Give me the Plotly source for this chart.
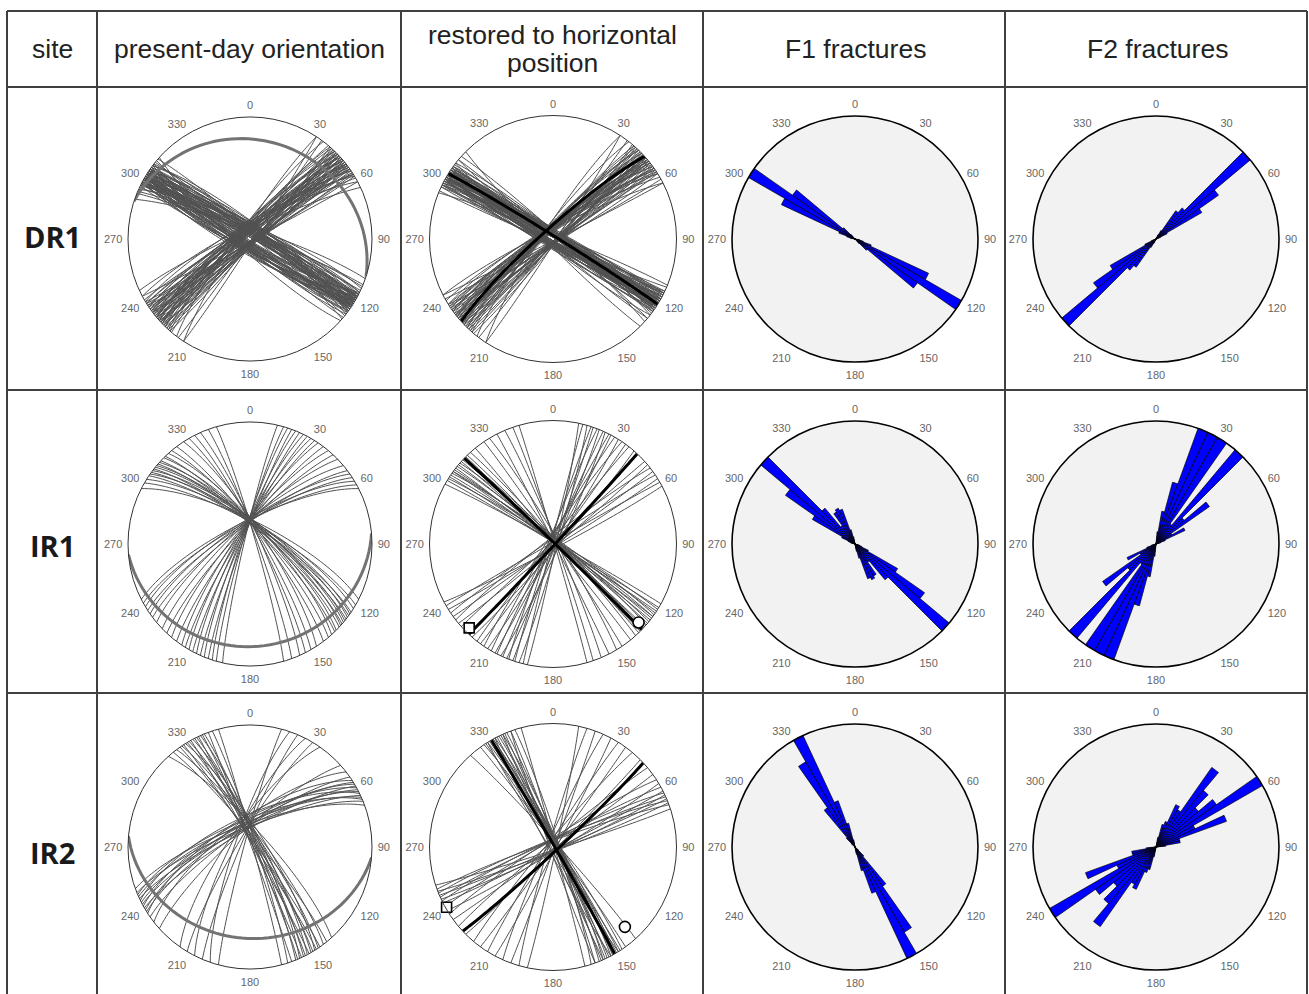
import numpy as np
import plotly.graph_objects as go

W, H = 1309, 994

# ---------------- data ----------------
TICK_DEG = [0, 30, 60, 90, 120, 150, 180, 210, 240, 270, 300, 330]
TICK_TXT = ["0", "30", "60", "90", "120", "150", "180", "210", "240", "270", "300", "330"]

HEADERS = ["site", "present-day orientation", "restored to horizontal", "position", "F1 fractures", "F2 fractures"]
SITES = ["DR1", "IR1", "IR2"]

# great circles: strike (right-hand rule), dip
DR1_NOW_F1_STRIKE = [289, 292, 294, 295, 296, 297, 297, 298, 298, 299, 299, 300, 300, 301, 301, 302, 302, 303, 303, 304,
                     304, 305, 305, 306, 307, 308, 309, 311, 116, 117, 118, 118, 119, 120, 120, 121, 121, 122, 123, 123,
                     124, 125, 126, 127, 128, 130, 132,
                     293, 296, 298, 299, 300, 301, 302, 303, 304, 305, 306, 307, 300, 303, 297, 119, 120, 121, 122, 123,
                     124, 125, 118, 122, 126, 121, 124, 117, 120, 123]
DR1_NOW_F1_DIP = [83, 86, 81, 87, 84, 88, 82, 85, 89, 80, 86, 83, 87, 84, 89, 81, 86, 84, 88, 82,
                  85, 87, 83, 86, 80, 84, 88, 85, 84, 87, 82, 88, 85, 83, 89, 86, 81, 84, 87, 82,
                  88, 85, 83, 86, 84, 87, 82,
                  85, 82, 87, 84, 81, 88, 83, 86, 80, 87, 84, 82, 89, 85, 86, 83, 88, 85, 81, 86,
                  84, 89, 82, 87, 85, 83, 88, 86, 80, 84]
DR1_NOW_F2_STRIKE = [213, 217, 220, 222, 223, 224, 225, 226, 226, 227, 228, 228, 229, 230, 230, 231, 232, 232, 233, 234,
                     235, 236, 237, 238, 240, 242, 245, 33, 36, 41, 43, 45, 46, 48, 50, 51, 53, 55, 57, 59, 62,
                     221, 224, 226, 227, 229, 230, 231, 233, 234, 235, 236, 238, 239, 227, 232, 42, 44, 47, 49, 52,
                     54, 56, 58, 48, 50, 53, 45]
DR1_NOW_F2_DIP = [84, 82, 85, 83, 86, 81, 84, 87, 82, 85, 83, 80, 86, 84, 82, 85, 88, 83, 81, 86,
                  84, 82, 87, 83, 85, 81, 84, 88, 89, 87, 88, 89, 86, 88, 89, 87, 88, 89, 87, 88, 89,
                  83, 85, 81, 86, 84, 82, 87, 85, 83, 86, 82, 84, 80, 88, 85, 88, 87, 89, 86, 88,
                  87, 89, 88, 86, 87, 89, 88]
DR1_BEDDING = [288, 20]

DR1_RES_F1_STRIKE = [292, 295, 296, 297, 298, 298, 299, 299, 300, 300, 301, 301, 302, 302, 302, 303, 303, 304, 304, 305,
                     305, 306, 307, 308, 310, 312, 113, 115, 116, 117, 118, 119, 120, 120, 121, 122, 122, 123, 124, 125,
                     126, 128, 130, 135,
                     296, 297, 299, 300, 301, 302, 303, 304, 305, 306, 300, 302, 304, 116, 118, 119, 120, 121, 122, 123,
                     124, 119, 121, 123, 120]
DR1_RES_F1_DIP = [87, 89, 86, 88, 85, 89, 87, 84, 88, 86, 89, 85, 87, 88, 84, 89, 86, 87, 85, 88,
                  86, 89, 87, 85, 88, 86, 88, 87, 89, 86, 88, 85, 89, 87, 86, 88, 84, 87, 89, 86,
                  88, 85, 87, 86,
                  88, 86, 89, 87, 85, 88, 86, 89, 87, 85, 89, 86, 88, 87, 89, 85, 88, 86, 89, 87,
                  85, 88, 86, 89, 87]
DR1_RES_F2_STRIKE = [213, 218, 221, 223, 224, 225, 226, 227, 227, 228, 229, 229, 230, 231, 231, 232, 233, 234, 235, 236,
                     237, 238, 240, 243, 33, 37, 40, 42, 44, 46, 47, 49, 50, 52, 54, 56, 58, 61, 63,
                     222, 224, 226, 228, 229, 230, 231, 232, 234, 235, 236, 238, 228, 232, 41, 43, 45, 48, 50, 53,
                     55, 57, 47, 51]
DR1_RES_F2_DIP = [83, 82, 84, 85, 83, 86, 82, 84, 85, 83, 86, 82, 84, 85, 83, 86, 84, 82, 85, 83,
                  84, 86, 83, 84, 88, 89, 87, 88, 89, 87, 88, 89, 88, 87, 89, 88, 87, 88, 89,
                  84, 82, 85, 83, 86, 84, 82, 85, 83, 86, 84, 82, 85, 83, 88, 89, 87, 88, 89, 87,
                  88, 89, 87, 88]
DR1_MEAN_STRIKE = [302, 228]
DR1_MEAN_DIP = [88, 83]

IR1_NOW_F1_STRIKE = [297, 300, 302, 304, 305, 306, 307, 308, 309, 310, 311, 312, 313, 315, 316, 318, 320, 323, 327, 330,
                     333, 336, 340, 344]
IR1_NOW_F1_DIP = [75, 77, 76, 78, 76, 78, 76, 79, 77, 77, 79, 77, 79, 78, 80, 78, 80, 81, 80, 82,
                  83, 83, 85, 86]
IR1_NOW_F2_STRIKE = [193, 196, 198, 200, 202, 204, 206, 208, 210, 212, 214, 217, 220, 223, 226, 230, 233, 235, 237, 239,
                     241, 243]
IR1_NOW_F2_DIP = [86, 85, 84, 85, 83, 84, 82, 83, 81, 82, 80, 81, 79, 80, 78, 77, 78, 76, 77, 75, 76, 75]
IR1_BEDDING = [85, 17]

IR1_RES_F1_STRIKE = [299, 301, 302, 303, 304, 305, 306, 306, 307, 308, 309, 310, 311, 312, 313, 314, 315, 316, 318, 321,
                     326, 329, 333, 337, 341, 344]
IR1_RES_F1_DIP = [88, 89, 87, 89, 88, 86, 89, 87, 88, 89, 87, 88, 86, 89, 88, 87, 89, 88, 87, 89,
                  88, 86, 89, 87, 88, 89]
IR1_RES_F2_STRIKE = [12, 194, 16, 198, 19, 201, 22, 204, 25, 207, 28, 210, 32, 214, 36, 218, 41, 228, 50, 232,
                     54, 236, 58, 240, 62]
IR1_RES_F2_DIP = [88, 89, 87, 88, 89, 87, 88, 89, 86, 88, 89, 87, 88, 86, 89, 88, 87, 89, 88, 86,
                  89, 87, 88, 89, 87]
IR1_MEAN_STRIKE = [314, 43]
IR1_MEAN_DIP = [89, 89]
IR1_SQUARE = [225, 0.96]   # trend, projected radius
IR1_CIRCLE = [132.5, 0.94]

IR2_NOW_F1_STRIKE = [318, 321, 323, 325, 326, 327, 328, 329, 330, 331, 332, 333, 334, 335, 336, 337, 338, 340, 342, 345]
IR2_NOW_F1_DIP = [79, 84, 81, 86, 82, 87, 80, 85, 83, 88, 82, 86, 84, 88, 83, 87, 85, 89, 86, 88]
IR2_NOW_F2_STRIKE = [195, 199, 203, 207, 211, 215, 228, 232, 235, 237, 238, 239, 240, 241, 242, 243, 244, 245, 246, 247,
                     248, 250]
IR2_NOW_F2_DIP = [86, 80, 84, 78, 82, 76, 79, 73, 78, 71, 76, 74, 79, 72, 77, 75, 70, 78, 74, 72, 77, 75]
IR2_BEDDING = [95, 26]

IR2_RES_F1_STRIKE = [318, 324, 326, 327, 328, 329, 330, 330, 331, 331, 332, 333, 334, 335, 336, 337, 338, 340, 342, 345,
                     148, 152, 156, 160]
IR2_RES_F1_DIP = [87, 88, 86, 89, 87, 88, 86, 89, 87, 88, 86, 89, 87, 88, 86, 89, 87, 88, 86, 89,
                  88, 87, 89, 88]
IR2_RES_F2_STRIKE = [12, 196, 20, 204, 28, 212, 36, 220, 45, 230, 54, 237, 59, 241, 63, 244, 65, 246, 67, 248,
                     69, 250, 72]
IR2_RES_F2_DIP = [88, 87, 89, 86, 88, 87, 89, 86, 88, 87, 89, 85, 87, 86, 88, 85, 87, 86, 88, 85,
                  87, 86, 88]
IR2_MEAN_STRIKE = [330, 47]
IR2_MEAN_DIP = [89, 87]
IR2_SQUARE = [240.5, 0.99]
IR2_CIRCLE = [138, 0.87]

# rose diagrams: relative length per 5-degree bin, 0-180 (plotted bidirectionally)
BIN_START = [0, 5, 10, 15, 20, 25, 30, 35, 40, 45, 50, 55, 60, 65, 70, 75, 80, 85,
             90, 95, 100, 105, 110, 115, 120, 125, 130, 135, 140, 145, 150, 155, 160, 165, 170, 175]
BIN_WIDTH = 5
DR1_F1 = [0, 0, 0, 0, 0, 0, 0, 0, 0, 0, 0, 0, 0, 0, 0, 0, 0, 0,
          0, 0, 0.04, 0.07, 0.14, 0.66, 1.0, 0.62, 0.13, 0.05, 0, 0, 0, 0, 0, 0, 0, 0]
DR1_F2 = [0, 0, 0, 0, 0, 0.04, 0.08, 0.28, 0.33, 1.0, 0.62, 0.43, 0.10, 0.04, 0, 0, 0, 0,
          0, 0, 0, 0, 0, 0, 0, 0, 0, 0, 0, 0, 0, 0, 0, 0, 0, 0]
IR1_F1 = [0, 0, 0, 0, 0, 0, 0, 0, 0, 0, 0, 0, 0, 0, 0, 0, 0, 0,
          0, 0, 0, 0.04, 0.06, 0.12, 0.40, 0.69, 1.0, 0.38, 0.18, 0.30, 0.32, 0.30, 0.12, 0.06, 0, 0]
IR1_F2 = [0, 0.10, 0.27, 0.52, 1.0, 1.0, 1.0, 0.20, 1.0, 0.30, 0.53, 0.15, 0.26, 0.08, 0.04, 0, 0, 0,
          0, 0, 0, 0, 0, 0, 0, 0, 0, 0, 0, 0, 0, 0, 0, 0, 0, 0]
IR2_F1 = [0, 0, 0, 0, 0, 0, 0, 0, 0, 0, 0, 0, 0, 0, 0, 0, 0, 0,
          0, 0, 0, 0, 0, 0, 0, 0, 0.04, 0.10, 0.39, 0.80, 1.0, 0.40, 0.20, 0.06, 0, 0]
IR2_F2 = [0, 0, 0.08, 0.19, 0.22, 0.38, 0.35, 0.79, 0.60, 0.45, 0.60, 1.0, 0.35, 0.61, 0.20, 0.20, 0.08, 0,
          0, 0, 0, 0, 0, 0, 0, 0, 0, 0, 0, 0, 0, 0, 0, 0, 0, 0]

# ---------------- helpers ----------------
THIN = "rgb(82,82,82)"


def great_circle(strike, dip, n=61):
    s = np.radians(strike)
    d = np.radians(dip)
    dd = s + np.pi / 2
    t = np.linspace(0, np.pi, n)
    sv = np.array([np.cos(s), np.sin(s), 0.0])
    dv = np.array([np.cos(dd) * np.cos(d), np.sin(dd) * np.cos(d), np.sin(d)])
    v = np.outer(np.cos(t), sv) + np.outer(np.sin(t), dv)
    plunge = np.degrees(np.arcsin(np.clip(v[:, 2], -1, 1)))
    trend = np.degrees(np.arctan2(v[:, 1], v[:, 0])) % 360
    r = np.sqrt(2) * np.sin(np.radians(90 - plunge) / 2)  # equal-area, lower hemisphere
    return r, trend


def circles(strikes, dips, color, width, sub):
    rr, tt = [], []
    for s, d in zip(strikes, dips):
        r, t = great_circle(s, d)
        rr += list(r) + [None]
        tt += list(t) + [None]
    return go.Scatterpolar(r=rr, theta=tt, mode="lines", line=dict(color=color, width=width),
                           subplot=sub, hoverinfo="skip", showlegend=False)


def rose(vals, sub):
    th = [b + BIN_WIDTH / 2 for b in BIN_START] + [b + BIN_WIDTH / 2 + 180 for b in BIN_START]
    return go.Barpolar(r=list(vals) + list(vals), theta=th, width=[BIN_WIDTH] * (2 * len(BIN_START)),
                       marker=dict(color="#0000ff", line=dict(color="black", width=0.7)),
                       subplot=sub, hoverinfo="skip", showlegend=False)


def marker(pt, symbol, size, sub):
    return go.Scatterpolar(r=[pt[1]], theta=[pt[0]], mode="markers",
                           marker=dict(symbol=symbol, size=size, color="white",
                                       line=dict(color="black", width=1.6)),
                           subplot=sub, hoverinfo="skip", showlegend=False)


fig = go.Figure()
layout = {}

COLS = [(250, 122), (553, 123.5), (855, 123), (1156, 123)]
ROWS = [239, 544, 847]


def polar_layout(cx, cy, R, bg, lw, lc):
    return dict(
        domain=dict(x=[(cx - R) / W, (cx + R) / W], y=[(H - (cy + R)) / H, (H - (cy - R)) / H]),
        bgcolor=bg,
        radialaxis=dict(visible=False, range=[0, 1]),
        angularaxis=dict(rotation=90, direction="clockwise", tickmode="array", tickvals=TICK_DEG,
                         ticktext=TICK_TXT, showgrid=False, showline=True, linecolor=lc, linewidth=lw,
                         ticks="outside", ticklen=3, tickcolor="rgba(0,0,0,0)",
                         tickfont=dict(family="Liberation Sans, Arial", size=11, color="#666666")),
    )


now_sets = [
    (DR1_NOW_F1_STRIKE, DR1_NOW_F1_DIP, DR1_NOW_F2_STRIKE, DR1_NOW_F2_DIP, DR1_BEDDING),
    (IR1_NOW_F1_STRIKE, IR1_NOW_F1_DIP, IR1_NOW_F2_STRIKE, IR1_NOW_F2_DIP, IR1_BEDDING),
    (IR2_NOW_F1_STRIKE, IR2_NOW_F1_DIP, IR2_NOW_F2_STRIKE, IR2_NOW_F2_DIP, IR2_BEDDING),
]
res_sets = [
    (DR1_RES_F1_STRIKE, DR1_RES_F1_DIP, DR1_RES_F2_STRIKE, DR1_RES_F2_DIP, DR1_MEAN_STRIKE, DR1_MEAN_DIP, None, None),
    (IR1_RES_F1_STRIKE, IR1_RES_F1_DIP, IR1_RES_F2_STRIKE, IR1_RES_F2_DIP, IR1_MEAN_STRIKE, IR1_MEAN_DIP, IR1_SQUARE, IR1_CIRCLE),
    (IR2_RES_F1_STRIKE, IR2_RES_F1_DIP, IR2_RES_F2_STRIKE, IR2_RES_F2_DIP, IR2_MEAN_STRIKE, IR2_MEAN_DIP, IR2_SQUARE, IR2_CIRCLE),
]
roses = [(DR1_F1, DR1_F2), (IR1_F1, IR1_F2), (IR2_F1, IR2_F2)]

k = 0
for i, cy in enumerate(ROWS):
    # present-day
    k += 1
    sub = "polar" if k == 1 else f"polar{k}"
    f1s, f1d, f2s, f2d, bed = now_sets[i]
    fig.add_trace(circles(f1s, f1d, THIN, 1.0, sub))
    fig.add_trace(circles(f2s, f2d, THIN, 1.0, sub))
    fig.add_trace(circles([bed[0]], [bed[1]], "rgb(115,115,115)", 3, sub))
    layout[sub] = polar_layout(COLS[0][0], cy, COLS[0][1], "white", 1, "#333333")
    # restored
    k += 1
    sub = f"polar{k}"
    f1s, f1d, f2s, f2d, ms, md, sq, ci = res_sets[i]
    fig.add_trace(circles(f1s, f1d, THIN, 1.0, sub))
    fig.add_trace(circles(f2s, f2d, THIN, 1.0, sub))
    fig.add_trace(circles(ms, md, "black", 3, sub))
    if sq is not None:
        fig.add_trace(marker(sq, "square", 10, sub))
        fig.add_trace(marker(ci, "circle", 11, sub))
    layout[sub] = polar_layout(COLS[1][0], cy, COLS[1][1], "white", 1, "#333333")
    # roses
    for j in range(2):
        k += 1
        sub = f"polar{k}"
        fig.add_trace(rose(roses[i][j], sub))
        layout[sub] = polar_layout(COLS[2 + j][0], cy, COLS[2 + j][1], "#f2f2f2", 1.6, "black")

# table grid
XL, XR = 7, 1307
YT, YB = 11, 1000
VLINES = [XL, 97, 401, 703, 1005, XR]
HLINES = [YT, 87, 390, 693]
shapes = []
for x in VLINES:
    shapes.append(dict(type="line", xref="paper", yref="paper", x0=x / W, x1=x / W,
                       y0=(H - YT) / H, y1=(H - YB) / H, line=dict(color="#404040", width=2)))
for y in HLINES:
    shapes.append(dict(type="line", xref="paper", yref="paper", x0=XL / W, x1=XR / W,
                       y0=(H - y) / H, y1=(H - y) / H, line=dict(color="#404040", width=2)))

ann = []
HEAD_POS = [(52, 49), (249, 49), (552, 35), (552, 63), (855, 49), (1157, 49)]
for txt, (x, y) in zip(HEADERS, HEAD_POS):
    ann.append(dict(text=txt, x=x / W, y=(H - y) / H, xref="paper", yref="paper", showarrow=False,
                    xanchor="center", yanchor="middle",
                    font=dict(family="Liberation Sans, Arial", size=26.5, color="#222222")))
SITE_POS = [(52, 237), (52, 545), (52, 852)]
for txt, (x, y) in zip(SITES, SITE_POS):
    ann.append(dict(text=f"<b>{txt}</b>", x=x / W, y=(H - y) / H, xref="paper", yref="paper", showarrow=False,
                    xanchor="center", yanchor="middle",
                    font=dict(family="Open Sans", size=29, color="#1a1a1a")))

fig.update_layout(template="none", width=W, height=H, margin=dict(l=0, r=0, t=0, b=0), paper_bgcolor="white",
                  plot_bgcolor="white", showlegend=False, shapes=shapes, annotations=ann, **layout)
fig.write_html("out.html", config={"displayModeBar": False},
               post_script="document.body.style.margin='0px';document.body.style.overflow='hidden';")
